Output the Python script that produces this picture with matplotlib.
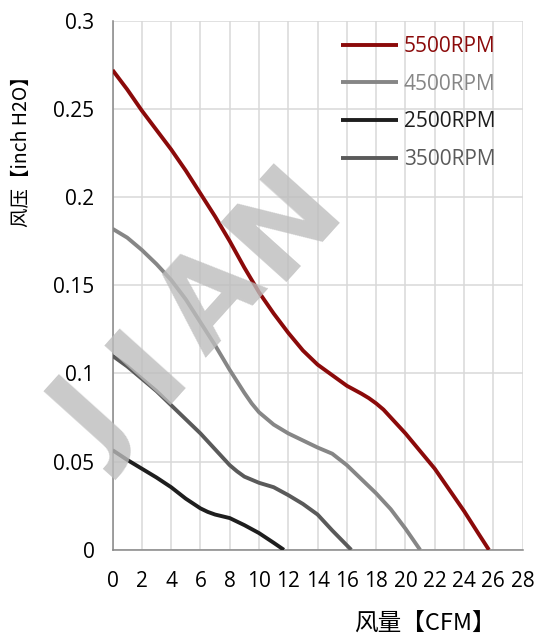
import matplotlib
matplotlib.use('Agg')
import matplotlib.pyplot as plt

plt.rcParams['font.family'] = ['Open Sans', 'Noto Sans CJK SC', 'DejaVu Sans']

# 风量 (CFM) / 风压 (inch H2O) 读数
x_5500 = [0, 1, 2, 3, 4, 5, 6, 7, 8, 9, 10, 11, 12, 13, 14, 15, 16, 17, 17.5, 18, 18.5, 19, 20, 21, 22, 23, 24, 25, 25.7]
y_5500 = [0.272, 0.261, 0.249, 0.238, 0.227, 0.215, 0.202, 0.189, 0.175, 0.160, 0.146, 0.134, 0.123,
          0.113, 0.105, 0.099, 0.093, 0.0885, 0.086, 0.083, 0.0795, 0.075, 0.066, 0.056, 0.046, 0.034,
          0.022, 0.009, 0.0]

x_4500 = [0, 1, 2, 3, 4, 5, 6, 7, 8, 9, 9.5, 10, 10.5, 11, 12, 13, 14, 15, 16, 17, 18, 19, 20, 21]
y_4500 = [0.182, 0.177, 0.170, 0.162, 0.153, 0.142, 0.129, 0.116, 0.102, 0.089, 0.083, 0.078, 0.0745,
          0.071, 0.066, 0.062, 0.058, 0.0545, 0.048, 0.040, 0.032, 0.023, 0.012, 0.0]

x_2500 = [0, 1, 2, 3, 4, 5, 6, 6.5, 7, 8, 9, 10, 11, 11.7]
y_2500 = [0.0565, 0.051, 0.046, 0.041, 0.0355, 0.029, 0.0235, 0.0215, 0.020, 0.018, 0.014, 0.0095, 0.004, 0.0]

x_3500 = [0, 1, 2, 3, 4, 5, 6, 7, 8, 8.5, 9, 10, 11, 12, 13, 14, 15, 16.3]
y_3500 = [0.110, 0.104, 0.097, 0.090, 0.082, 0.074, 0.066, 0.057, 0.048, 0.0445, 0.0415, 0.038, 0.0355,
          0.031, 0.026, 0.020, 0.011, 0.0]

series = [
    ('5500RPM', x_5500, y_5500, '#8B0A0A'),
    ('4500RPM', x_4500, y_4500, '#868686'),
    ('2500RPM', x_2500, y_2500, '#1E1E1E'),
    ('3500RPM', x_3500, y_3500, '#5A5A5A'),
]

x_ticks = list(range(0, 29, 2))
y_ticks = [0, 0.05, 0.1, 0.15, 0.2, 0.25, 0.3]
y_tick_labels = ['0', '0.05', '0.1', '0.15', '0.2', '0.25', '0.3']

fig = plt.figure(figsize=(5.36, 6.36), dpi=100)
ax = fig.add_axes([0.210, 0.1355, 0.765, 0.832])

# 水印 JIAN，逐个字母沿对角线
wm_letters = ['J', 'I', 'A', 'N']
wm_pos = [(95, 425), (150, 366), (212, 300), (285, 222)]
for ch, (px, py) in zip(wm_letters, wm_pos):
    fig.text(px / 536, 1 - py / 636, ch, rotation=48, fontsize=88, fontweight='bold',
             family='DejaVu Sans', color='#BDBDBD', alpha=0.8, ha='center', va='center', zorder=0)

for label, xs, ys, c in series:
    ax.plot(xs, ys, color=c, lw=2.8, label=label, solid_capstyle='butt', zorder=3)

ax.set_xlim(0, 28)
ax.set_ylim(0, 0.3)
ax.set_xticks(x_ticks)
ax.set_yticks(y_ticks)
ax.set_yticklabels(y_tick_labels)
ax.grid(True, color='#D9D9D9', lw=1.1)
ax.set_axisbelow(True)
ax.patch.set_alpha(0)
for s in ['top', 'right']:
    ax.spines[s].set_visible(False)
for s in ['left', 'bottom']:
    ax.spines[s].set_color('#868686')
    ax.spines[s].set_linewidth(1.1)
ax.tick_params(length=0, labelsize=15)
ax.tick_params(axis='x', pad=15)
ax.tick_params(axis='y', pad=13)

leg = ax.legend(loc='upper left', bbox_to_anchor=(0.537, 0.987), frameon=False, fontsize=15,
                handlelength=2.75, handletextpad=0.25, labelspacing=0.8, labelcolor='linecolor',
                borderaxespad=0)

fig.text(425 / 536, 1 - 623 / 636, '风量【CFM】', fontsize=17, ha='center', va='center',
         family=['Noto Sans CJK SC', 'DejaVu Sans'])
fig.text(21 / 536, 1 - 147 / 636, '风压【inch H2O】', fontsize=14, rotation=90, ha='center', va='center',
         family=['Noto Sans CJK SC', 'DejaVu Sans'])

fig.savefig('out.png', dpi=100)
